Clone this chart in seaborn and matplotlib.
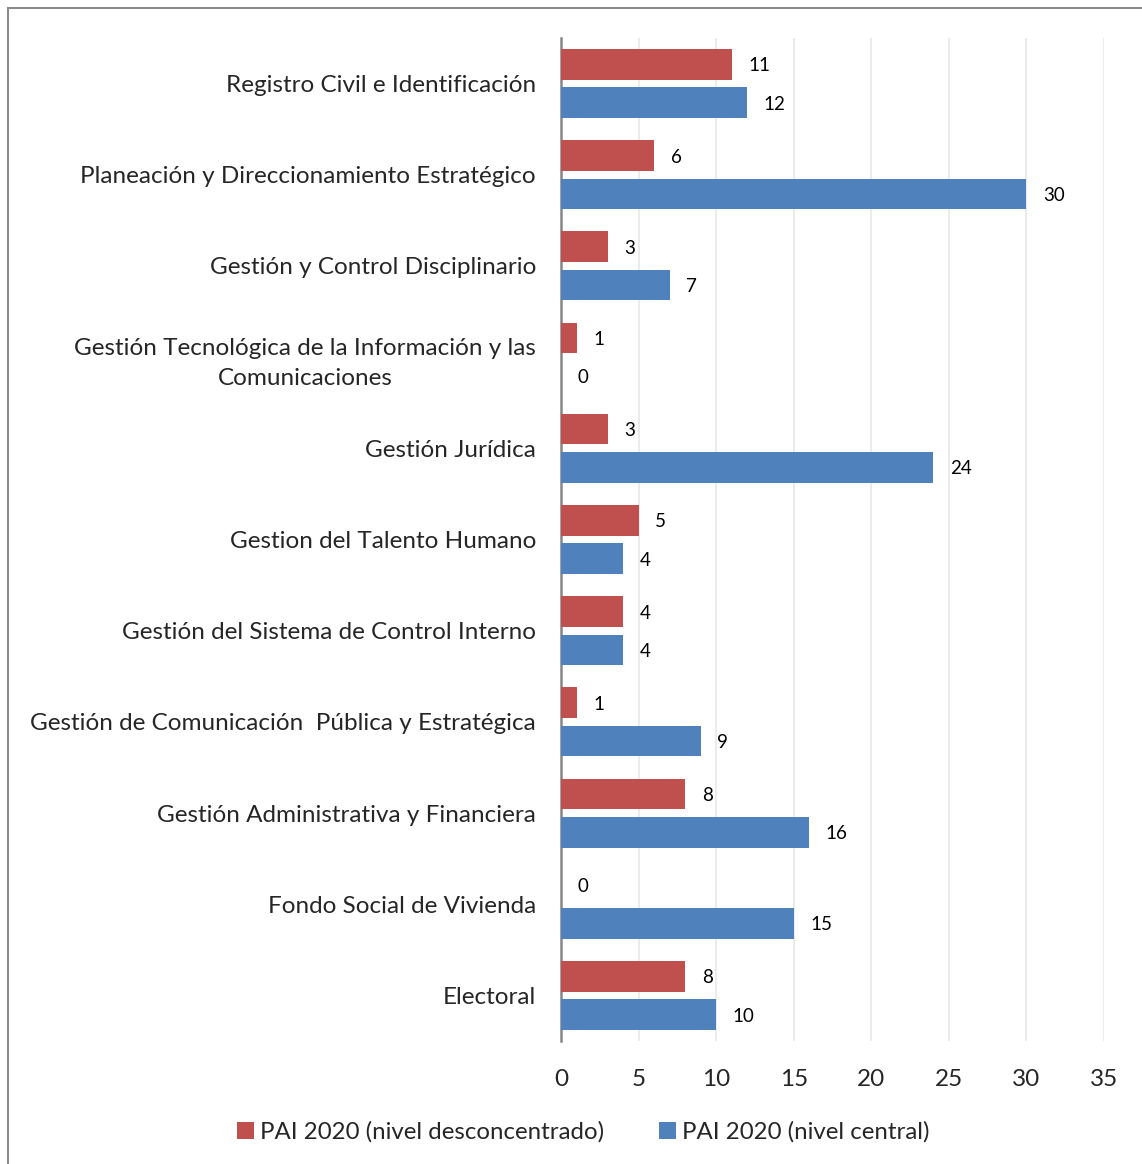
import matplotlib.pyplot as plt
import pandas as pd
import seaborn as sns
from matplotlib.patches import Rectangle

# Categories (top to bottom) and the two series
categories = [
    "Registro Civil e Identificación",
    "Planeación y Direccionamiento Estratégico",
    "Gestión y Control Disciplinario",
    "Gestión Tecnológica de la Información y las\nComunicaciones",
    "Gestión Jurídica",
    "Gestion del Talento Humano",
    "Gestión del Sistema de Control Interno",
    "Gestión de Comunicación  Pública y Estratégica",
    "Gestión Administrativa y Financiera",
    "Fondo Social de Vivienda",
    "Electoral",
]
desconcentrado = [11, 6, 3, 1, 3, 5, 4, 1, 8, 0, 8]
central = [12, 30, 7, 0, 24, 4, 4, 9, 16, 15, 10]
series_names = ["PAI 2020 (nivel desconcentrado)", "PAI 2020 (nivel central)"]
x_ticks = [0, 5, 10, 15, 20, 25, 30, 35]

df = pd.DataFrame({
    "categoria": categories * 2,
    "valor": desconcentrado + central,
    "serie": [series_names[0]] * len(categories) + [series_names[1]] * len(categories),
})

sns.set_style("white")
plt.rcParams["font.family"] = ["Lato", "DejaVu Sans"]

W, H = 1142, 1164
fig = plt.figure(figsize=(W / 100, H / 100), dpi=100)
ax = fig.add_axes([561 / W, (H - 1041) / H, (1104 - 561) / W, (1041 - 38) / H])

palette = {series_names[0]: "#C0504D", series_names[1]: "#4F81BD"}
sns.barplot(data=df, y="categoria", x="valor", hue="serie", order=categories,
            hue_order=series_names, palette=palette, orient="h", width=0.84,
            gap=0.2, errorbar=None, saturation=1, ax=ax, zorder=3,
            linewidth=0)

for cont in ax.containers:
    labels = ax.bar_label(cont, padding=12, fontsize=13.5, color="black")
    for t in labels:
        t.set_va("center_baseline")

ax.set_xlim(0, 35)
ax.set_ylim(10.5, -0.5)
ax.set_xticks(x_ticks)
ax.grid(axis="x", color="#e8e8e8", linewidth=1.2, zorder=0)
ax.grid(axis="y", visible=False)
ax.set_xlabel("")
ax.set_ylabel("")
ax.tick_params(axis="y", labelsize=17.5, pad=18, length=0)
ax.tick_params(axis="x", labelsize=17.5, pad=20, length=0)
for lbl in ax.get_yticklabels():
    lbl.set_multialignment("center")
    lbl.set_linespacing(1.5)
for side in ["top", "right", "bottom"]:
    ax.spines[side].set_visible(False)
ax.spines["left"].set_color("#868686")
ax.spines["left"].set_linewidth(1.8)

ax.legend(loc="center", bbox_to_anchor=(583 / W, (H - 1132) / H),
          bbox_transform=fig.transFigure, ncol=2, frameon=False, fontsize=17.3,
          handlelength=0.7, handleheight=0.7, handletextpad=0.25,
          columnspacing=2.3)

# outer chart border
fig.patches.append(Rectangle((8 / W, -0.1), 1.2, 1.1 - 8 / H,
                             transform=fig.transFigure, fill=False,
                             edgecolor="#8c8c8c", linewidth=1.5))

fig.savefig("out.png", dpi=100)
